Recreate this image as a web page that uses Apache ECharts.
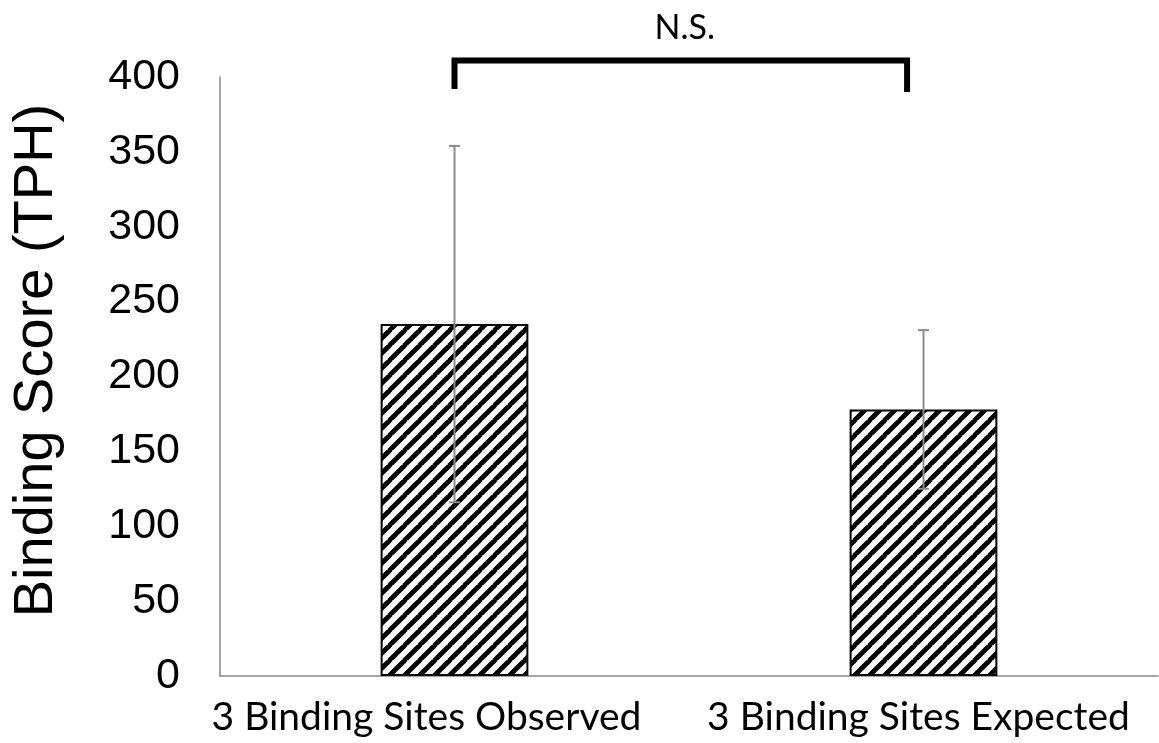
<!DOCTYPE html>
<html>
<head>
<meta charset="utf-8">
<script src="https://cdn.jsdelivr.net/npm/echarts@6/dist/echarts.min.js"></script>
<style>
  html, body { margin: 0; padding: 0; background: #fff; }
  #chart { width: 1159px; height: 743px; }
</style>
</head>
<body>
<div id="chart"></div>
<script>
// Binding score per group, with error bar limits
const categories = ['3 Binding Sites Observed', '3 Binding Sites Expected'];
const means = [235, 178];
const errLow = [116, 125];
const errHigh = [354, 231];

// Significance bracket between the two groups
const bracketLabel = 'N.S.';
const bracketTop = 411;
const bracketLegEnds = [392, 390];

const yMin = 0, yMax = 400, yStep = 50;

// Diagonal "/" hatch tile used to fill the bars
function makeHatch() {
  const p = 15;
  const c = document.createElement('canvas');
  c.width = p; c.height = p;
  const g = c.getContext('2d');
  g.fillStyle = '#fff';
  g.fillRect(0, 0, p, p);
  g.strokeStyle = '#000';
  g.lineWidth = 4.8;
  for (const k of [-p, 0, p]) {
    g.beginPath();
    g.moveTo(k - 1, p + 1);
    g.lineTo(k + p + 1, -1);
    g.stroke();
  }
  return c;
}

const chart = echarts.init(document.getElementById('chart'), null, { renderer: 'canvas' });

const errData = categories.map((c, i) => [i, errLow[i], errHigh[i]]);

chart.setOption({
  animation: false,
  grid: { left: 220, right: 1, top: 77, bottom: 67, containLabel: false },
  xAxis: {
    type: 'category',
    data: categories,
    axisLine: { lineStyle: { color: '#868686', width: 1.5 } },
    axisTick: { show: false },
    axisLabel: {
      interval: 0,
      color: '#000', fontFamily: 'Lato', fontSize: 39, margin: 22,
      formatter: function (v, i) { return (i === 0 ? '{a|' : '{b|') + v + '}'; },
      rich: {
        a: { fontFamily: 'Lato', fontSize: 39, color: '#000', padding: [0, 56, 0, 0] },
        b: { fontFamily: 'Lato', fontSize: 39, color: '#000', padding: [0, 10, 0, 0] }
      }
    }
  },
  yAxis: {
    type: 'value',
    min: yMin, max: yMax, interval: yStep,
    name: 'Binding Score (TPH)',
    nameLocation: 'middle',
    nameGap: 155,
    nameTextStyle: {
      color: '#000', fontFamily: 'Liberation Sans', fontSize: 56,
      padding: [0, 0, 0, 32]
    },
    axisLine: { show: true, lineStyle: { color: '#868686', width: 1.5 } },
    axisTick: { show: false },
    splitLine: { show: false },
    axisLabel: {
      color: '#000', fontFamily: 'Liberation Sans', fontSize: 43, margin: 40
    }
  },
  series: [
    {
      type: 'bar',
      data: means,
      barWidth: '31.5%',
      itemStyle: {
        color: { image: makeHatch(), repeat: 'repeat' },
        borderColor: '#000',
        borderWidth: 2
      }
    },
    {
      // error bars
      type: 'custom',
      data: errData,
      z: 5,
      renderItem: function (params, api) {
        const x = api.value(0);
        const lo = api.coord([x, api.value(1)]);
        const hi = api.coord([x, api.value(2)]);
        const hw = 5.5;
        const style = { stroke: '#8c8c8c', lineWidth: 2 };
        return {
          type: 'group',
          children: [
            { type: 'line', shape: { x1: lo[0], y1: lo[1], x2: hi[0], y2: hi[1] }, style },
            { type: 'line', shape: { x1: hi[0] - hw, y1: hi[1], x2: hi[0] + hw, y2: hi[1] }, style },
            { type: 'line', shape: { x1: lo[0] - hw, y1: lo[1], x2: lo[0] + hw, y2: lo[1] }, style }
          ]
        };
      }
    },
    {
      // significance bracket
      type: 'custom',
      data: [[0, 1, bracketTop, bracketLegEnds[0], bracketLegEnds[1]]],
      clip: false,
      z: 6,
      renderItem: function (params, api) {
        const a = api.coord([api.value(0), api.value(2)]);
        const b = api.coord([api.value(1), api.value(2)]);
        const xl = a[0];
        const xr = a[0] + (b[0] - a[0]) * 0.965;
        const yTop = a[1];
        const yl = api.coord([api.value(0), api.value(3)])[1];
        const yr = api.coord([api.value(0), api.value(4)])[1];
        return {
          type: 'group',
          children: [
            {
              type: 'polyline',
              shape: { points: [[xl, yl], [xl, yTop], [xr, yTop], [xr, yr]] },
              style: { stroke: '#000', lineWidth: 6, fill: null, lineJoin: 'miter' }
            },
            {
              type: 'text',
              style: {
                text: bracketLabel, x: (xl + xr) / 2 + 4, y: yTop - 32,
                align: 'center', verticalAlign: 'middle',
                font: '34px Lato', fill: '#000'
              }
            }
          ]
        };
      }
    }
  ]
});
</script>
</body>
</html>
